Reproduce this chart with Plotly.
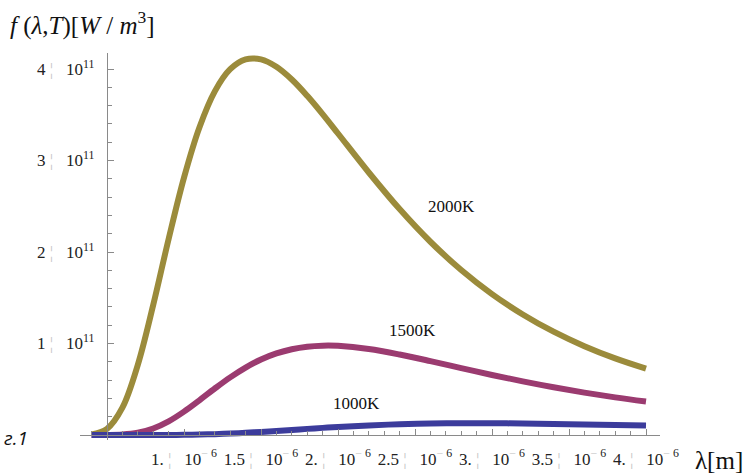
import plotly.graph_objects as go

# wavelength samples (micrometres)
wavelength_um = [0.4, 0.5, 0.6, 0.7, 0.8, 0.9, 1.0, 1.1, 1.2, 1.3, 1.4, 1.5, 1.6, 1.7, 1.8, 1.9,
                 2.0, 2.2, 2.4, 2.6, 2.8, 3.0, 3.2, 3.4, 3.6, 3.8, 4.0]
# spectral values in units of 1e11 W/m^3
f_2000K = [0.00565, 0.0676, 0.2986, 0.7662, 1.420, 2.141, 2.813, 3.361, 3.756, 3.998, 4.105, 4.105,
           4.024, 3.885, 3.707, 3.507, 3.295, 2.869, 2.469, 2.112, 1.803, 1.540, 1.317, 1.129,
           0.9705, 0.8372, 0.7249]
f_1500K = [0.0000141, 0.000558, 0.005486, 0.02491, 0.07087, 0.1490, 0.2555, 0.3794, 0.5080, 0.6298,
           0.7368, 0.8245, 0.8912, 0.9374, 0.9650, 0.9764, 0.9742, 0.9398, 0.8797, 0.8073, 0.7310,
           0.6562, 0.5858, 0.5213, 0.4632, 0.4113, 0.3654]
f_1000K = [0.0, 0.0, 0.0, 0.0, 0.000177, 0.000723, 0.002111, 0.004848, 0.009333, 0.01573, 0.02394,
           0.03364, 0.04438, 0.05563, 0.06690, 0.07777, 0.08789, 0.1050, 0.1174, 0.1249, 0.1283,
           0.1283, 0.1258, 0.1214, 0.1159, 0.1096, 0.1030]

series_names = ["2000K", "1500K", "1000K"]
series_colors = ["#9b8b3b", "#9b3b70", "#3c3c9c"]

x_major_vals = [1.0, 1.5, 2.0, 2.5, 3.0, 3.5, 4.0]
x_major_text = ["1.", "1.5", "2.", "2.5", "3.", "3.5", "4."]
y_major_vals = [1, 2, 3, 4]
y_major_text = ["1", "2", "3", "4"]

label_pos_x = [2.740, 2.484, 2.120]
label_pos_y = [2.50, 1.137, 0.339]

W, H = 746, 476
L, R, T, B = 80, 660, 53, 440
ORIGIN_PX_X, ORIGIN_PX_Y = 107, 435
PX_PER_UM = 154.0
PX_PER_E11 = 91.5
x_origin = 0.5

x0 = (x_origin + (L - ORIGIN_PX_X) / PX_PER_UM) * 1e-6
x1 = (x_origin + (R - ORIGIN_PX_X) / PX_PER_UM) * 1e-6
y0 = ((ORIGIN_PX_Y - B) / PX_PER_E11) * 1e11
y1 = ((ORIGIN_PX_Y - T) / PX_PER_E11) * 1e11

def px(xp):
    return (xp - L) / (R - L)

def py(yp):
    return (B - yp) / (B - T)

lam = [v * 1e-6 for v in wavelength_um]
fig = go.Figure()
for name, vals, col in zip(series_names, [f_2000K, f_1500K, f_1000K], series_colors):
    fig.add_trace(go.Scatter(x=lam, y=[v * 1e11 for v in vals], mode="lines", name=name,
                             line=dict(color=col, width=6, shape="spline"), showlegend=False))

gray = "#8a8a8a"
NB = "\u00a0"
bar = f"{NB}<span style='color:#c4c4c4'>¦</span>{NB}{NB}{NB}"
xtt = [f"{t}{bar}10<sup><span style='color:#c4c4c4'>−</span>{NB}6</sup>" for t in x_major_text]
ytt = [f"{t}{bar}10<sup>11</sup>" for t in y_major_text]

fig.update_layout(
    template="none",
    width=W, height=H,
    margin=dict(l=L, r=W - R, t=T, b=H - B, autoexpand=False),
    paper_bgcolor="white", plot_bgcolor="white",
    font=dict(family="Liberation Serif", color="#222", size=17),
    xaxis=dict(range=[x0, x1], showgrid=False, zeroline=False, anchor="free",
               position=(0 - y0) / (y1 - y0), automargin=False,
               showline=True, linecolor=gray, linewidth=1.3,
               tickmode="array", tickvals=[v * 1e-6 for v in x_major_vals], ticktext=xtt,
               ticks="inside", ticklen=6, tickcolor=gray, tickwidth=1,
               ticklabelstandoff=8, tickfont=dict(size=17),
               minor=dict(tickmode="linear", tick0=0, dtick=1e-7, ticks="inside",
                          ticklen=4, tickcolor=gray, tickwidth=1)),
    yaxis=dict(range=[y0, y1], showgrid=False, zeroline=False, anchor="free",
               position=(x_origin * 1e-6 - x0) / (x1 - x0), automargin=False,
               showline=True, linecolor=gray, linewidth=1.3,
               tickmode="array", tickvals=[v * 1e11 for v in y_major_vals], ticktext=ytt,
               ticks="inside", ticklen=6, tickcolor=gray, tickwidth=1,
               ticklabelstandoff=9, tickfont=dict(size=17),
               minor=dict(tickmode="linear", tick0=0, dtick=2e10, ticks="inside",
                          ticklen=4, tickcolor=gray, tickwidth=1)),
)

for name, lx, ly in zip(series_names, label_pos_x, label_pos_y):
    fig.add_annotation(x=lx * 1e-6, y=ly * 1e11, text=name, showarrow=False,
                       font=dict(family="Liberation Serif", size=17, color="#111"))

fig.add_annotation(xref="paper", yref="paper", x=px(8), y=py(24),
                   xanchor="left", yanchor="middle", showarrow=False,
                   text="<i>f</i> (<i>λ</i>,<i>T</i>)[<i>W</i> / <i>m</i><sup>3</sup>]",
                   font=dict(family="Liberation Serif", size=25, color="#111"))
fig.add_annotation(xref="paper", yref="paper", x=px(745), y=py(460),
                   xanchor="right", yanchor="middle", showarrow=False,
                   text="λ[m]", font=dict(family="Liberation Serif", size=25, color="#111"))
fig.add_annotation(xref="paper", yref="paper", x=px(2), y=py(438),
                   xanchor="left", yanchor="middle", showarrow=False,
                   text="<i>г.1</i>", font=dict(family="Open Sans", size=19, color="#111"))

fig.write_html("out.html", config={"displayModeBar": False},
               post_script="document.body.style.margin='0';document.body.style.padding='0';")
